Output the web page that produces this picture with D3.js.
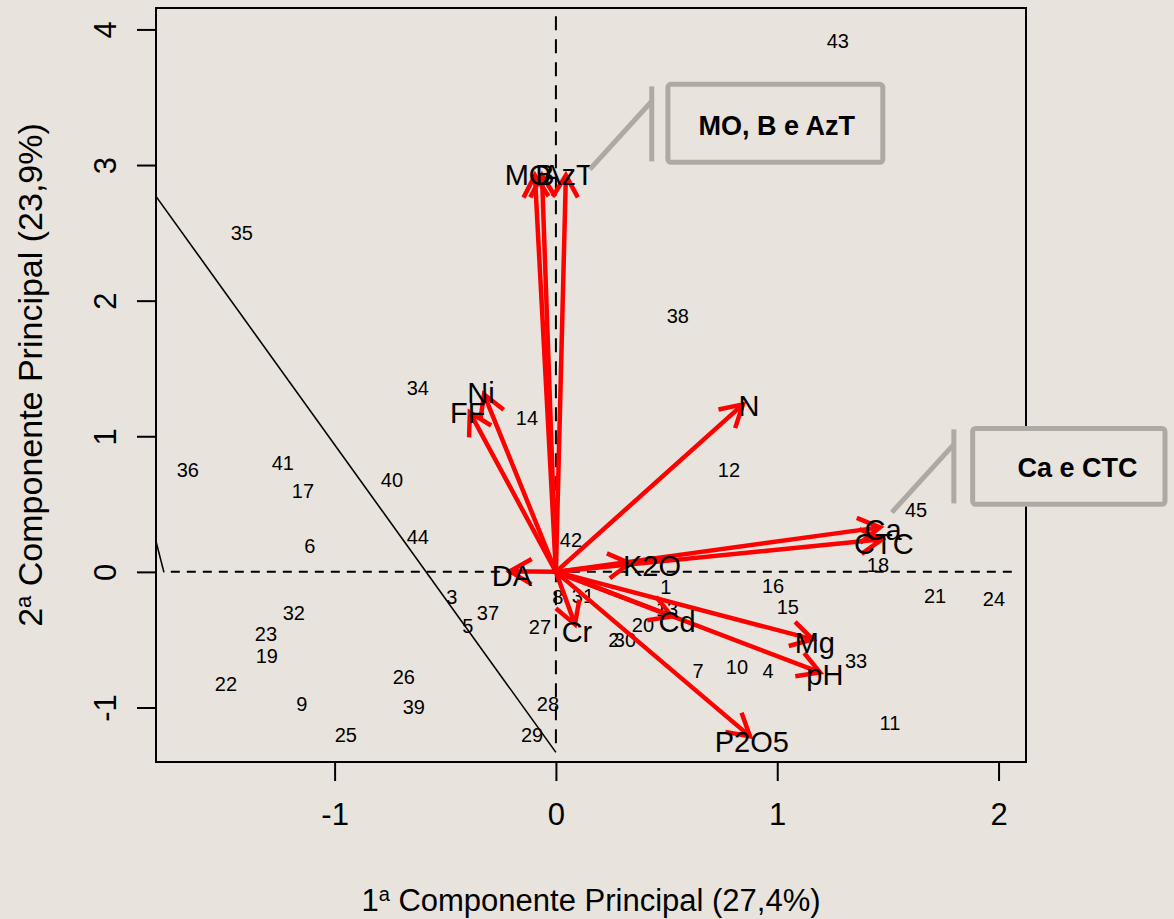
<!DOCTYPE html>
<html lang="pt">
<head>
  <meta charset="UTF-8">
  <title>Biplot</title>
  <script src="https://d3js.org/d3.v7.min.js"></script>
  <style>
    body { margin: 0; background: #e8e4dd; }
    svg { display: block; font-family: 'Liberation Sans', Arial, sans-serif; }
  </style>
</head>
<body>
  <div id="root"></div>
  <script>
    // amostras (scores)
    const obsId = ['1','2','3','4','5','6','7','8','9','10','11','12','13','14','15','16','17','18','19','20','21','22','23',
      '24','25','26','27','28','29','30','31','32','33','34','35','36','37','38','39','40','41','42','43','44','45']
    const obsPC1 = [0.497, 0.262, -0.470, 0.958, -0.398, -1.112, 0.642, 0.009, -1.148, 0.818, 1.509, 0.782, 0.502, -0.131,
      1.048, 0.981, -1.143, 1.455, -1.306, 0.393, 1.713, -1.491, -1.310, 1.979, -0.949, -0.687, -0.072, -0.036, -0.108,
      0.312, 0.122, -1.184, 1.356, -0.624, -1.419, -1.663, -0.307, 0.551, -0.642, -0.741, -1.234, 0.068, 1.274, -0.624, 1.627]
    const obsPC2 = [-0.114, -0.505, -0.188, -0.734, -0.402, 0.188, -0.734, -0.188, -0.977, -0.704, -1.117, 0.749, -0.277, 1.132,
      -0.262, -0.107, 0.594, 0.048, -0.623, -0.395, -0.181, -0.830, -0.461, -0.203, -1.206, -0.778, -0.409, -0.977, -1.206,
      -0.505, -0.181, -0.306, -0.660, 1.353, 2.496, 0.749, -0.306, 1.884, -0.999, 0.675, 0.800, 0.232, 3.912, 0.254, 0.454]

    // variáveis (setas)
    const varNames = ['MO', 'B', 'AzT', 'Ni', 'FF', 'N', 'DA', 'K2O', 'Ca', 'CTC', 'Cd', 'Mg', 'pH', 'P2O5', 'Cr']
    const varPC1 = [-0.095, -0.063, 0.045, -0.325, -0.389, 0.845, -0.208, 0.334, 1.464, 1.473, 0.524, 1.161, 1.193, 0.877, 0.086]
    const varPC2 = [2.924, 2.924, 2.924, 1.309, 1.176, 1.235, 0.004, 0.063, 0.328, 0.240, -0.328, -0.498, -0.741, -1.213, -0.387]
    const varLabelPC1 = [-0.126, -0.050, 0.054, -0.339, -0.398, 0.872, -0.199, 0.434, 1.478, 1.482, 0.547, 1.170, 1.215, 0.885, 0.095]
    const varLabelPC2 = [2.930, 2.930, 2.930, 1.323, 1.169, 1.221, -0.033, 0.041, 0.313, 0.203, -0.365, -0.520, -0.756, -1.250, -0.439]

    // linha de separação
    const sepPC1 = [-1.807, 0]
    const sepPC2 = [2.769, -1.331]
    const sepShortPC1 = [-1.807, -1.771]
    const sepShortPC2 = [0.225, -0.004]

    // destaques
    const notes = [
      { text: 'MO, B e AzT', box: [0.506, 1.477, 3.595, 3.020], tx: 0.998, ty: 3.293,
        bar: [0.433, 3.580, 3.027], diag: [0.153, 2.968, 0.433, 3.470] },
      { text: 'Ca e CTC', box: [1.883, 2.752, 1.058, 0.498], tx: 2.357, ty: 0.771,
        bar: [1.798, 1.051, 0.505], diag: [1.518, 0.439, 1.798, 0.940] }
    ]

    const xTicks = [-1, 0, 1, 2]
    const yTicks = [-1, 0, 1, 2, 3, 4]

    const dimensions = {
      width: 1174,
      height: 919,
      margin: { top: 8, right: 148, bottom: 157, left: 156 }
    }
    dimensions.boundedWidth = dimensions.width - dimensions.margin.left - dimensions.margin.right
    dimensions.boundedHeight = dimensions.height - dimensions.margin.top - dimensions.margin.bottom

    const bg = '#e8e4dd'
    const noteGray = '#aeaaa3'

    const wrapper = d3.select('#root')
      .append('svg')
        .attr('width', dimensions.width)
        .attr('height', dimensions.height)

    wrapper.append('rect')
      .attr('width', dimensions.width)
      .attr('height', dimensions.height)
      .attr('fill', bg)

    const bounds = wrapper.append('g')
      .attr('transform', `translate(${dimensions.margin.left}, ${dimensions.margin.top})`)

    const xScale = d3.scaleLinear()
      .domain([-1.807, 2.124])
      .range([0, dimensions.boundedWidth])

    const yScale = d3.scaleLinear()
      .domain([-1.402, 4.158])
      .range([dimensions.boundedHeight, 0])

    // eixos (rótulos com hífen simples, como no R)
    const xAxis = bounds.append('g')
      .attr('transform', `translate(0, ${dimensions.boundedHeight})`)
      .call(d3.axisBottom(xScale).tickValues(xTicks).tickSize(19).tickPadding(22).tickFormat(d => String(d)))
    xAxis.select('.domain').remove()
    xAxis.selectAll('line').attr('stroke', '#000').attr('stroke-width', 2)
    xAxis.selectAll('text').attr('font-size', 31).attr('fill', '#000')
      .attr('font-family', "'Liberation Sans', Arial, sans-serif")

    const yAxis = bounds.append('g')
      .call(d3.axisLeft(yScale).tickValues(yTicks).tickSize(19).tickFormat(d => String(d)))
    yAxis.select('.domain').remove()
    yAxis.selectAll('line').attr('stroke', '#000').attr('stroke-width', 2)
    yAxis.selectAll('text')
      .attr('font-size', 31).attr('fill', '#000')
      .attr('font-family', "'Liberation Sans', Arial, sans-serif")
      .attr('text-anchor', 'middle')
      .attr('x', null).attr('dy', null)
      .attr('transform', 'translate(-51, 0) rotate(-90)')
      .attr('dominant-baseline', 'central')

    // títulos
    wrapper.append('text')
      .attr('x', dimensions.margin.left + dimensions.boundedWidth / 2)
      .attr('y', 911)
      .attr('text-anchor', 'middle')
      .attr('font-size', 31)
      .html('1<tspan font-size="20" dy="-10">a</tspan><tspan dy="10"> Componente Principal (27,4%)</tspan>')

    wrapper.append('text')
      .attr('transform', `translate(42, 375) rotate(-90)`)
      .attr('text-anchor', 'middle')
      .attr('font-size', 34)
      .html('2<tspan font-size="22" dy="-11">a</tspan><tspan dy="11"> Componente Principal (23,9%)</tspan>')

    // linhas de referência
    const dashed = bounds.append('g')
      .attr('stroke', '#000').attr('stroke-width', 2).attr('fill', 'none')
    dashed.append('line')
      .attr('x1', xScale(-1.74)).attr('x2', xScale(2.065))
      .attr('y1', yScale(0)).attr('y2', yScale(0))
      .attr('stroke-dasharray', '9,7')
    dashed.append('line')
      .attr('x1', xScale(0)).attr('x2', xScale(0))
      .attr('y1', yScale(4.097)).attr('y2', yScale(-1.331))
      .attr('stroke-dasharray', '14,9')

    const lineGenerator = d3.line()
      .x(d => xScale(d[0]))
      .y(d => yScale(d[1]))

    bounds.append('path')
      .attr('d', lineGenerator(d3.zip(sepPC1, sepPC2)))
      .attr('stroke', '#000').attr('stroke-width', 1.6).attr('fill', 'none')
    bounds.append('path')
      .attr('d', lineGenerator(d3.zip(sepShortPC1, sepShortPC2)))
      .attr('stroke', '#000').attr('stroke-width', 1.6).attr('fill', 'none')

    // números das amostras
    bounds.append('g')
      .selectAll('text')
      .data(obsId)
      .join('text')
      .attr('x', (d, i) => xScale(obsPC1[i]))
      .attr('y', (d, i) => yScale(obsPC2[i]))
      .attr('dy', '0.35em')
      .attr('text-anchor', 'middle')
      .attr('font-size', 20)
      .text(d => d)

    // setas
    const x0 = xScale(0)
    const y0 = yScale(0)
    const headLen = 25
    const arrows = bounds.append('g')
      .attr('stroke', '#ff0000')
      .attr('stroke-width', 4.5)
      .attr('stroke-linecap', 'butt')
      .attr('fill', 'none')

    arrows.selectAll('path')
      .data(varNames)
      .join('path')
      .attr('d', (d, i) => {
        const tx = xScale(varPC1[i])
        const ty = yScale(varPC2[i])
        const a = Math.atan2(ty - y0, tx - x0)
        const a1 = a + Math.PI - Math.PI / 6
        const a2 = a + Math.PI + Math.PI / 6
        return `M${x0},${y0}L${tx},${ty}` +
          `M${tx + headLen * Math.cos(a1)},${ty + headLen * Math.sin(a1)}L${tx},${ty}` +
          `L${tx + headLen * Math.cos(a2)},${ty + headLen * Math.sin(a2)}`
      })

    bounds.append('g')
      .selectAll('text')
      .data(varNames)
      .join('text')
      .attr('x', (d, i) => xScale(varLabelPC1[i]))
      .attr('y', (d, i) => yScale(varLabelPC2[i]))
      .attr('dy', '0.35em')
      .attr('text-anchor', 'middle')
      .attr('font-size', 29)
      .text(d => d)

    // moldura
    bounds.append('rect')
      .attr('width', dimensions.boundedWidth)
      .attr('height', dimensions.boundedHeight)
      .attr('fill', 'none')
      .attr('stroke', '#000')
      .attr('stroke-width', 2)

    // caixas de destaque
    const noteG = bounds.append('g')
    notes.forEach(n => {
      noteG.append('line')
        .attr('x1', xScale(n.diag[0])).attr('y1', yScale(n.diag[1]))
        .attr('x2', xScale(n.diag[2])).attr('y2', yScale(n.diag[3]))
        .attr('stroke', noteGray).attr('stroke-width', 5)
      noteG.append('line')
        .attr('x1', xScale(n.bar[0])).attr('y1', yScale(n.bar[1]))
        .attr('x2', xScale(n.bar[0])).attr('y2', yScale(n.bar[2]))
        .attr('stroke', noteGray).attr('stroke-width', 5)
      noteG.append('rect')
        .attr('x', xScale(n.box[0]))
        .attr('y', yScale(n.box[2]))
        .attr('width', xScale(n.box[1]) - xScale(n.box[0]))
        .attr('height', yScale(n.box[3]) - yScale(n.box[2]))
        .attr('rx', 3)
        .attr('fill', bg)
        .attr('stroke', noteGray)
        .attr('stroke-width', 5)
      noteG.append('text')
        .attr('x', xScale(n.tx))
        .attr('y', yScale(n.ty))
        .attr('dy', '0.35em')
        .attr('text-anchor', 'middle')
        .attr('font-size', 27)
        .attr('font-weight', 'bold')
        .text(n.text)
    })
  </script>
</body>
</html>
